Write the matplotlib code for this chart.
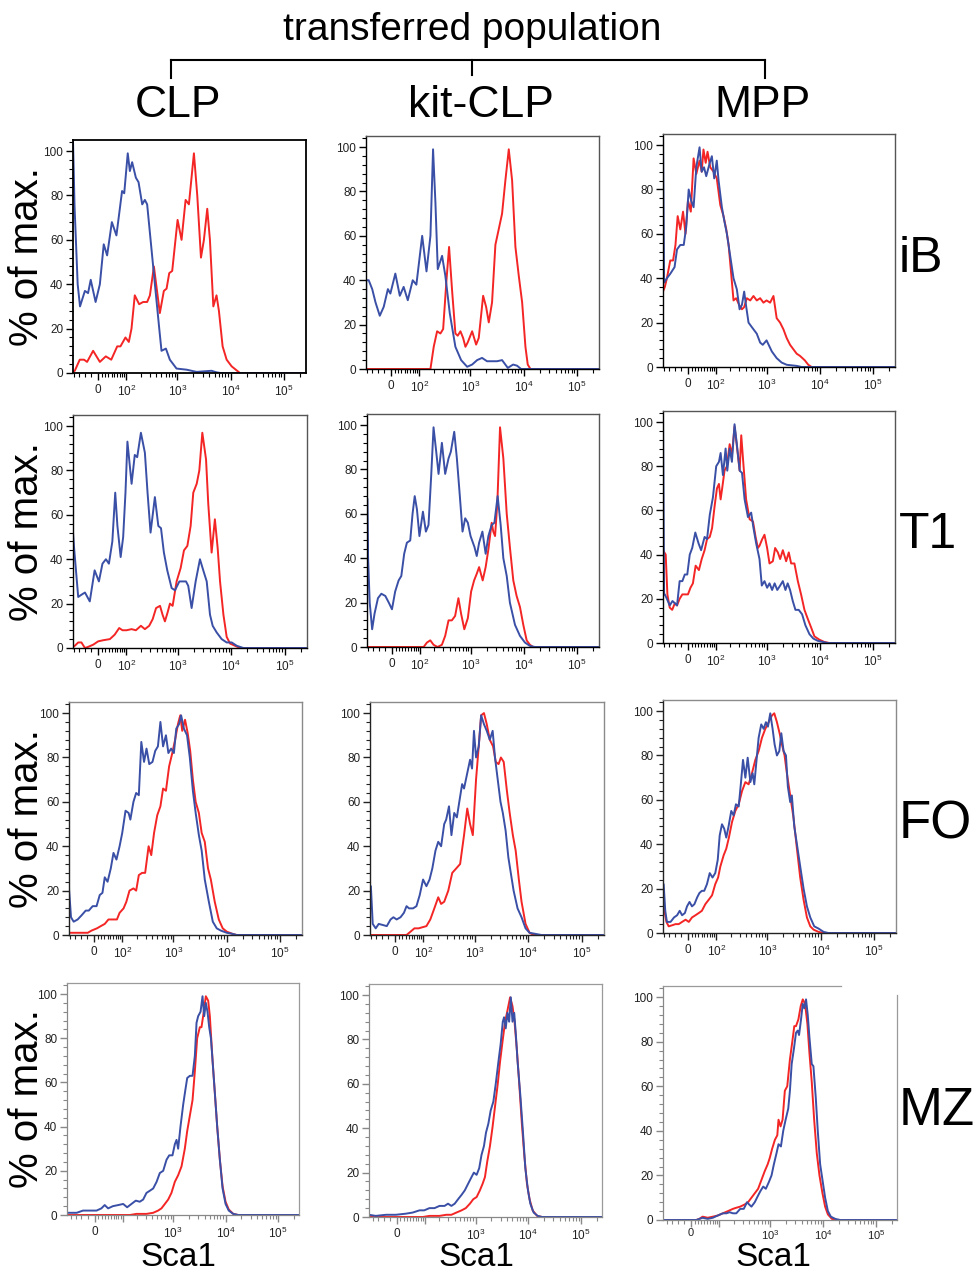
import numpy as np
import matplotlib
matplotlib.use("Agg")
import matplotlib.pyplot as plt
from matplotlib.lines import Line2D
from matplotlib.ticker import FixedLocator, MultipleLocator

plt.rcParams['font.family'] = ['Liberation Sans', 'DejaVu Sans']
plt.rcParams['mathtext.fontset'] = 'custom'
plt.rcParams['mathtext.rm'] = 'Liberation Sans'
plt.rcParams['mathtext.it'] = 'Liberation Sans:italic'
plt.rcParams['mathtext.bf'] = 'Liberation Sans:bold'

# === DATA: (Sca1 fluorescence, % of max) ===
COLUMNS = ["CLP", "kit-CLP", "MPP"]
ROWS = ["iB", "T1", "FO", "MZ"]

IB_CLP_RED = [(-85,0.5),(-77,1),(-57,6),(-42,6),(-32,5),(-14,10),(5,5),(22,7.5),(39,6),(60,12),(73,12),(96,16),(114,14),(130,20),(152,35),(186,31),(223,32),(267,32),(302,35),(360,48),(423,35),(467,27),(556,37),(626,38),(703,45),(800,46),(1010,69),(1200,60),(1430,78),(1650,76),(2050,99),(2370,80),(2780,52),(3160,60),(3650,74),(4100,60),(4750,30),(5450,35),(6050,28),(7100,12),(8450,6),(10500,3),(15000,0),(262144,0)]
IB_CLP_BLUE = [(-85,105),(-78,75),(-65,40),(-56,30),(-39,37),(-29,36),(-21,42),(-7,32),(5,40),(16,58),(26,53),(41,68),(57,62),(80,82),(90,81),(108,99),(120,91),(134,95),(160,88),(181,86),(214,76),(241,78),(267,76),(311,60),(376,40),(455,20),(502,10),(608,11),(722,6),(965,2),(1490,1.5),(2300,0.5),(4400,1),(5450,0.3),(6500,0),(262144,0)]

IB_KIT_RED = [(-85,0),(172,0),(200,10),(233,17),(270,16),(305,18),(353,40),(396,55),(453,35),(522,16),(578,15),(650,17),(730,14),(808,10),(893,12),(1080,17),(1285,11),(1440,14),(1740,33),(1980,28),(2220,21),(2560,30),(2960,56),(3420,63),(3950,70),(4560,85),(5280,99),(6100,85),(7040,55),(8140,42),(9420,30),(10860,10),(12000,2),(13500,0),(262144,0)]
IB_KIT_BLUE = [(-85,0),(-84,40),(-73,40),(-59,36),(-47,30),(-33,24),(-21,28),(-9,36),(-2,34),(12,43),(25,33),(37,37),(51,31),(70,40),(86,38),(116,60),(143,44),(172,60),(194,99),(216,75),(240,45),(291,51),(336,42),(409,25),(522,10),(670,4),(870,1),(1080,2),(1340,4),(1660,5),(2060,3.5),(3180,3.5),(3950,4),(5060,0.5),(6370,2),(7550,1.5),(8990,0),(262144,0)]

IB_MPP_RED = [(-85,34),(-77,36),(-68,40),(-55,48),(-45,48),(-37,55),(-30,68),(-22,62),(-14,70),(-7,60),(0,75),(8,70),(16,94),(24,87),(34,93),(41,88),(47,98),(55,92),(62,97),(73,90),(88,88),(104,85),(124,73),(145,68),(165,62),(184,55),(207,42),(230,30),(259,31),(296,28),(335,26),(370,27),(416,31),(483,30),(556,32),(643,30),(745,31),(860,29),(985,30),(1150,29),(1330,32),(1530,22),(1775,20),(2050,17),(2370,13),(2740,10),(3160,8),(3650,6),(4220,5),(5200,3),(6050,1),(7000,0),(262144,0)]
IB_MPP_BLUE = [(-85,105),(-80,38),(-68,40),(-55,42),(-40,45),(-32,53),(-22,55),(-12,55),(-5,63),(2,80),(9,75),(16,72),(24,90),(34,99),(41,88),(49,90),(57,86),(71,92),(80,95),(91,85),(104,93),(114,84),(134,72),(150,66),(170,60),(198,50),(230,40),(267,35),(302,26),(335,28),(370,34),(400,28),(448,20),(517,18),(643,15),(745,11),(835,10),(985,12),(1240,7),(1530,4),(1900,2),(2370,1),(3650,0.5),(4530,0),(262144,0)]

T1_CLP_RED = [(-85,0.5),(-77,1),(-63,2.5),(-51,2.5),(-39,0),(-29,0.5),(-14,1.5),(0,3),(14,3.5),(34,4),(50,6),(67,9),(81,8),(100,8),(129,8.5),(158,8),(199,10),(238,8.5),(288,10),(336,13),(390,18),(463,19),(517,15),(573,12),(643,16),(712,20),(800,19),(950,30),(1130,36),(1305,44),(1510,46),(1740,55),(1950,70),(2260,74),(2530,80),(2880,97),(3380,85),(3720,65),(4300,43),(4950,58),(5580,45),(6180,30),(7150,15),(8230,5),(9530,2),(11800,1),(14600,0),(262144,0)]
T1_CLP_BLUE = [(-85,52),(-80,45),(-63,23),(-51,24),(-39,25),(-24,21),(-10,35),(2,30),(12,38),(22,40),(31,38),(42,48),(52,70),(60,55),(73,41),(84,50),(95,70),(105,93),(129,74),(150,87),(168,86),(199,97),(238,88),(268,70),(306,52),(370,68),(430,55),(483,54),(548,43),(634,35),(766,27),(885,26),(1070,30),(1425,30),(1570,28),(1815,18),(2160,30),(2600,40),(3000,35),(3480,30),(4010,15),(4500,10),(5350,7),(6630,4),(8230,2.5),(10200,2.5),(12700,1),(16900,0),(262144,0)]

T1_KIT_RED = [(-85,0),(120,0),(141,2),(165,3),(192,1),(230,0),(280,1),(324,5),(376,12),(435,12),(502,14),(580,22),(652,15),(750,8),(875,13),(1010,25),(1150,30),(1290,33),(1430,36),(1670,30),(1900,36),(2140,44),(2470,56),(2650,52),(2860,50),(3160,65),(3550,99),(4100,85),(4750,60),(5450,45),(6320,30),(7300,23),(8450,18),(9760,10),(11300,3),(13000,1),(15000,0),(262144,0)]
T1_KIT_BLUE = [(-85,0),(-84,67),(-80,40),(-73,20),(-63,8),(-54,15),(-42,22),(-31,24),(-19,23),(-9,20),(0,17),(9,25),(19,30),(27,32),(36,42),(45,47),(57,48),(66,60),(75,68),(85,62),(97,50),(116,61),(134,52),(152,55),(173,78),(192,99),(217,88),(241,78),(280,92),(324,78),(376,85),(416,88),(483,97),(542,85),(608,70),(694,52),(780,58),(875,56),(985,50),(1170,45),(1290,41),(1430,47),(1650,52),(1900,42),(2140,50),(2470,55),(2780,56),(3200,68),(3650,55),(4100,40),(4750,32),(5450,20),(6800,10),(8450,5),(10500,2),(13000,0.5),(16200,0),(262144,0)]

T1_MPP_RED = [(-85,42),(-73,40),(-66,22),(-57,16),(-48,15),(-39,18),(-32,17),(-24,20),(-16,22),(-6,22),(0,22),(7,25),(14,27),(22,35),(32,33),(41,38),(51,42),(60,47),(71,48),(81,52),(93,62),(105,70),(116,72),(126,65),(136,70),(152,78),(170,80),(193,90),(214,85),(241,98),(271,88),(303,78),(325,94),(360,80),(403,65),(470,56),(545,55),(610,48),(675,43),(724,44),(815,47),(900,49),(1010,43),(1120,36),(1295,37),(1430,43),(1610,41),(1780,38),(2000,42),(2310,37),(2590,41),(2870,36),(3310,36),(3840,28),(4420,22),(5120,15),(5900,11),(6850,7),(7900,3),(9800,1.5),(12100,0.5),(15100,0),(262144,0)]
T1_MPP_BLUE = [(-85,105),(-80,22),(-77,22),(-68,20),(-57,17),(-47,19),(-39,18),(-32,17),(-24,28),(-16,28),(-9,31),(-2,31),(5,40),(12,43),(21,50),(31,45),(39,42),(51,48),(60,47),(71,58),(85,66),(101,80),(116,82),(126,86),(141,76),(160,88),(173,78),(193,88),(214,82),(241,99),(267,90),(303,78),(336,77),(377,65),(437,57),(503,59),(557,52),(627,45),(724,38),(800,26),(900,28),(1010,25),(1120,27),(1255,24),(1400,27),(1570,24),(1780,26),(2000,28),(2240,24),(2470,27),(2740,24),(3080,19),(3460,15),(3990,15),(4620,13),(5340,8),(6360,4),(7530,2),(9110,1),(11300,0.5),(14000,0),(262144,0)]

FO_CLP_RED = [(-85,1),(-81,1),(-50,1),(-18,1),(-7,2),(8,3),(19,4),(31,5),(43,7),(58,7),(75,7),(87,10),(107,12),(123,15),(143,20),(172,21),(195,20),(220,27),(255,28),(292,28),(340,40),(382,36),(432,46),(497,54),(570,58),(640,66),(725,65),(832,76),(955,82),(1080,88),(1220,95),(1350,99),(1470,92),(1660,97),(1860,91),(2075,83),(2330,70),(2630,60),(3020,55),(3410,46),(3900,42),(4490,30),(5070,25),(6000,15),(7150,7),(8480,3),(10100,1.5),(13000,0.5),(15500,0),(262144,0)]
FO_CLP_BLUE = [(-85,21),(-76,8),(-65,6),(-50,7),(-36,9),(-24,11),(-15,11),(-4,13),(7,13),(16,18),(24,19),(31,26),(40,24),(51,30),(61,37),(73,34),(87,40),(100,46),(118,56),(137,55),(149,52),(172,60),(195,64),(220,63),(246,87),(278,78),(310,84),(350,77),(403,78),(455,83),(511,85),(570,96),(640,85),(725,90),(806,82),(908,84),(1024,82),(1135,93),(1280,95),(1400,99),(1580,93),(1810,90),(2040,80),(2330,65),(2630,55),(3020,45),(3410,38),(3900,25),(4650,15),(5520,6),(6550,3),(7800,2),(10100,1),(13000,0.5),(15500,0),(262144,0)]

FO_KIT_RED = [(-85,0),(33,0),(46,1.5),(60,3),(77,3),(95,3.5),(116,4),(140,7),(169,12),(202,17),(230,14),(264,15),(316,20),(376,28),(447,30),(530,32),(628,45),(722,57),(815,50),(918,45),(1055,70),(1185,85),(1315,99),(1485,100),(1675,95),(1910,88),(2200,85),(2470,78),(2790,77),(3080,80),(3480,78),(3990,65),(4500,55),(5160,45),(5830,38),(6680,25),(7500,15),(8920,5),(10600,1),(12550,0),(262144,0)]
FO_KIT_BLUE = [(-85,22),(-81,22),(-73,5),(-61,3),(-50,5),(-36,4.5),(-24,4),(-13,7),(-5,8),(4,7),(15,8),(25,10),(33,13),(41,12),(55,12),(68,13),(82,18),(98,25),(116,22),(135,25),(154,30),(178,38),(202,42),(230,40),(264,50),(288,52),(326,58),(363,45),(410,55),(460,53),(511,60),(578,68),(628,66),(708,72),(815,79),(888,75),(965,92),(1055,80),(1185,85),(1315,99),(1485,95),(1675,92),(1910,88),(2160,92),(2390,80),(2690,70),(3030,60),(3350,55),(3780,47),(4250,35),(4720,28),(5330,20),(6320,12),(7500,8),(8920,3),(10600,1),(13700,0.5),(17700,0),(262144,0)]

FO_MPP_RED = [(-85,14),(-82,12),(-70,5),(-61,3),(-48,3.5),(-37,4),(-27,4),(-17,5),(-7,6),(2,5),(11,7),(21,8),(31,9),(41,10),(53,13),(66,15),(80,17),(95,22),(110,25),(123,30),(144,35),(163,38),(184,43),(212,50),(246,55),(286,58),(332,64),(384,68),(443,67),(512,72),(593,78),(685,82),(792,88),(915,92),(1060,95),(1220,98),(1350,99),(1515,95),(1700,90),(1880,85),(2110,80),(2330,72),(2690,62),(3100,52),(3600,38),(4150,25),(4800,15),(5550,7),(6420,3),(7400,1.5),(9170,0.5),(11400,0),(262144,0)]
FO_MPP_BLUE = [(-85,22),(-82,22),(-75,10),(-68,5),(-54,5),(-42,7),(-32,8),(-24,10),(-17,8),(-9,9),(-3,12),(4,14),(11,12),(18,13),(26,16),(33,18),(41,19),(49,19),(59,22),(70,27),(82,25),(95,27),(108,33),(119,44),(133,49),(148,47),(163,43),(181,48),(205,55),(228,53),(253,58),(286,57),(317,68),(346,78),(384,70),(425,79),(478,68),(527,72),(567,67),(637,80),(685,88),(767,94),(852,92),(940,95),(1026,93),(1135,99),(1255,92),(1370,85),(1515,80),(1680,82),(1830,90),(2020,82),(2240,80),(2430,66),(2690,59),(2890,62),(3210,48),(3600,40),(4150,30),(4800,20),(5550,12),(6420,7),(7610,3),(9170,2),(11400,0.5),(14100,0),(262144,0)]

MZ_CLP_RED = [(-100,0),(144,0),(196,0.5),(309,0.5),(416,1),(518,2),(600,3),(697,5),(807,7),(932,10),(1080,15),(1250,18),(1450,22),(1675,30),(1860,38),(2090,45),(2350,52),(2600,65),(2880,80),(3240,85),(3480,85),(3740,90),(4210,99),(4670,97),(5020,90),(5650,70),(6260,55),(6930,40),(7790,25),(8770,13),(10000,6),(11500,2.5),(14000,0.5),(17400,0),(262144,0)]
MZ_CLP_BLUE = [(-100,1),(-79,1),(-57,1),(-35,2),(-14,2),(5,2),(19,3),(29,4.5),(40,3),(57,4),(79,4.5),(103,5),(126,3.5),(155,5),(190,6.5),(228,6),(266,7),(309,10),(360,11),(416,12),(484,15),(558,19),(648,20),(750,25),(844,27),(975,27),(1080,32),(1165,34),(1250,30),(1385,40),(1560,50),(1700,56),(1860,62),(2090,63),(2350,63),(2600,72),(2800,87),(3010,90),(3340,92),(3640,99),(3920,90),(4210,96),(4530,92),(4880,85),(5260,80),(5650,70),(6260,55),(6930,40),(7790,25),(8770,12),(10000,5),(11500,2),(14000,0.5),(17400,0),(262144,0)]

MZ_KIT_RED = [(-100,0),(90,0),(126,0.5),(203,0.5),(276,1),(346,1),(432,2),(543,3),(653,4),(782,6),(905,8),(1050,9),(1210,12),(1365,15),(1510,18),(1670,25),(1880,32),(2090,40),(2350,50),(2640,60),(2920,70),(3290,80),(3640,88),(4030,93),(4530,99),(5030,95),(5500,88),(6100,75),(6750,60),(7570,42),(8400,28),(9450,15),(10600,8),(12100,3),(14700,0.5),(18300,0),(262144,0)]
MZ_KIT_BLUE = [(-100,1),(-69,0.5),(-32,1),(-3,1),(26,1.5),(48,2),(75,3),(97,3),(126,4),(161,4),(203,5),(255,5),(298,6),(346,5),(401,6),(465,8),(543,10),(625,12),(724,15),(840,18),(930,20),(1050,19),(1175,22),(1300,28),(1447,32),(1580,38),(1750,42),(1940,48),(2180,52),(2420,60),(2720,70),(3000,78),(3290,88),(3480,90),(3740,85),(4030,92),(4340,88),(4670,99),(5030,88),(5420,92),(5830,82),(6280,70),(7070,55),(7950,38),(8800,22),(9880,12),(10950,6),(12650,2),(15100,0.5),(18300,0),(262144,0)]

MZ_MPP_RED = [(-100,0),(15,0),(24,0.5),(34,1.5),(51,1),(71,1.5),(93,2),(121,3),(155,4),(195,5),(227,5.5),(271,6),(332,7),(384,8),(445,10),(515,12),(596,14),(690,18),(798,22),(905,25),(995,28),(1100,32),(1240,36),(1375,38),(1450,45),(1585,42),(1730,45),(1910,58),(2120,60),(2380,72),(2640,80),(2880,87),(3100,87),(3440,90),(3810,96),(4160,99),(4600,97),(5090,88),(5560,75),(6150,62),(6830,45),(7650,30),(8600,20),(9800,12),(11000,6),(12400,2.5),(14800,0.5),(18300,0),(262144,0)]
MZ_MPP_BLUE = [(-100,0),(15,0),(24,0.5),(34,1),(51,0.5),(71,1),(93,2),(121,3),(144,3),(167,3.5),(195,3),(227,3),(271,5),(317,5),(367,8),(401,7),(445,6),(515,8),(596,11),(660,13),(745,15),(835,14),(952,17),(1070,20),(1185,25),(1330,30),(1450,34),(1610,33),(1780,40),(1975,45),(2215,50),(2380,58),(2570,70),(2840,77),(3100,84),(3340,85),(3540,83),(3860,90),(4160,97),(4460,95),(4800,99),(5170,92),(5560,82),(6150,70),(6610,69),(7320,55),(7990,40),(8860,25),(9800,18),(11000,10),(12400,4),(14100,1.5),(17100,0.5),(21200,0),(262144,0)]

CURVES = [
    [(IB_CLP_RED, IB_CLP_BLUE), (IB_KIT_RED, IB_KIT_BLUE), (IB_MPP_RED, IB_MPP_BLUE)],
    [(T1_CLP_RED, T1_CLP_BLUE), (T1_KIT_RED, T1_KIT_BLUE), (T1_MPP_RED, T1_MPP_BLUE)],
    [(FO_CLP_RED, FO_CLP_BLUE), (FO_KIT_RED, FO_KIT_BLUE), (FO_MPP_RED, FO_MPP_BLUE)],
    [(MZ_CLP_RED, MZ_CLP_BLUE), (MZ_KIT_RED, MZ_KIT_BLUE), (MZ_MPP_RED, MZ_MPP_BLUE)],
]

MAJOR_X = [0, 100, 1000, 10000, 100000]
MAJOR_LABELS = ['0', r'$10^2$', r'$10^3$', r'$10^4$', r'$10^5$']
MZ_LABELS = ['0', '', r'$10^3$', r'$10^4$', r'$10^5$']
MINOR_X = ([-80, -60, -40, -20] + list(range(10, 100, 10)) + list(range(200, 1000, 100))
           + list(range(2000, 10000, 1000)) + list(range(20000, 100000, 10000)) + [200000])

# === LAYOUT (pixel boxes: left, top, right, bottom) ===
W, H = 977, 1275
BOXES = [
    [(73, 140, 306, 373), (366, 136, 599, 369), (663, 134, 895, 367)],
    [(73, 415, 307, 648), (367, 414, 599, 647), (663, 411, 895, 643)],
    [(69, 702, 302, 935), (370, 702, 604, 935), (663, 700, 896, 933)],
    [(67, 983, 299, 1215), (369, 984, 602, 1217), (663, 986, 897, 1220)],
]
RED = '#f42525'
BLUE = '#3a4fa6'


def fwd(x):
    return np.arcsinh(np.asarray(x, dtype=float) / 64.8) / np.log(10)


def inv(u):
    return 64.8 * np.sinh(np.asarray(u, dtype=float) * np.log(10))


def fx(px):
    return px / W


def fy(py):
    return 1 - py / H


fig = plt.figure(figsize=(W / 100, H / 100), dpi=100)

for r in range(4):
    for c in range(3):
        l, t, rt, b = BOXES[r][c]
        ax = fig.add_axes([fx(l), fy(b), (rt - l) / W, (b - t) / H])
        ax.set_xscale('function', functions=(fwd, inv))
        red, blue = CURVES[r][c]
        xr, yr = zip(*red)
        xb, yb = zip(*blue)
        ax.plot(xr, yr, color=RED, lw=1.4, solid_joinstyle='round')
        ax.plot(xb, yb, color=BLUE, lw=1.4, solid_joinstyle='round')

        if r < 3:
            ax.set_xlim(-85, 262144)
        else:
            ax.set_xlim(-100, 250000)
        ax.set_ylim(0, 105)

        ax.xaxis.set_major_locator(FixedLocator(MAJOR_X))
        ax.xaxis.set_minor_locator(FixedLocator(MINOR_X))
        ax.set_xticklabels(MZ_LABELS if r == 3 else MAJOR_LABELS)
        ax.set_yticks([0, 20, 40, 60, 80, 100])
        ax.yaxis.set_minor_locator(MultipleLocator(4))

        # frame styling
        if r == 0 and c == 0:
            frame, axis_col, lw = 'black', 'black', 1.3
        elif r < 2:
            frame, axis_col, lw = '#555555', 'black', 1.0
        elif r == 2:
            frame, axis_col, lw = '#8a8a8a', '#222222', 1.0
        else:
            frame, axis_col, lw = '#9a9a9a', '#888888', 0.9
        for side in ('top', 'right'):
            ax.spines[side].set_color(frame)
            ax.spines[side].set_linewidth(lw)
        for side in ('left', 'bottom'):
            ax.spines[side].set_color(axis_col)
            ax.spines[side].set_linewidth(lw)
        ax.tick_params(which='major', direction='out', length=5, width=1.0,
                       color=axis_col, labelsize=8.5, pad=2, labelcolor='#222222')
        ax.tick_params(which='minor', direction='out', length=3, width=0.8,
                       color=axis_col)
        ax.tick_params(axis='x', which='major', pad=3)

        if r == 3 and c == 2:
            # broken frame, as in the scanned panel
            ax.spines['top'].set_bounds(-100, 21900)
            ax.spines['right'].set_bounds(0, 101)
            ax.tick_params(axis='x', which='major', pad=1, labelsize=8)

# === TEXT ===
fig.text(fx(472), fy(40), 'transferred population', fontsize=28,
         ha='center', va='baseline')
for name, xc in zip(COLUMNS, [178, 481, 763]):
    fig.text(fx(xc), fy(117), name, fontsize=32, ha='center', va='baseline')

fig.add_artist(Line2D([fx(171), fx(765)], [fy(60), fy(60)], color='black',
                      lw=1.5, transform=fig.transFigure))
for xp, yb in [(171, 78), (472, 75), (765, 78)]:
    fig.add_artist(Line2D([fx(xp), fx(xp)], [fy(60), fy(yb)], color='black',
                          lw=1.5, transform=fig.transFigure))

for r, name in enumerate(ROWS):
    l, t, rt, b = BOXES[r][0]
    yc = (t + b) / 2
    fig.text(fx(27), fy(yc), '% of max.', fontsize=29, rotation=90,
             ha='center', va='center')
    l3, t3, r3, b3 = BOXES[r][2]
    size = 36 if r < 2 else 38
    fig.text(fx(899), fy((t3 + b3) / 2 + 8), name, fontsize=size,
             ha='left', va='center')

for c, xc in enumerate([178, 476, 773]):
    fig.text(fx(xc), fy(1266), 'Sca1', fontsize=24, ha='center', va='baseline')

fig.savefig('out.png', dpi=100)
